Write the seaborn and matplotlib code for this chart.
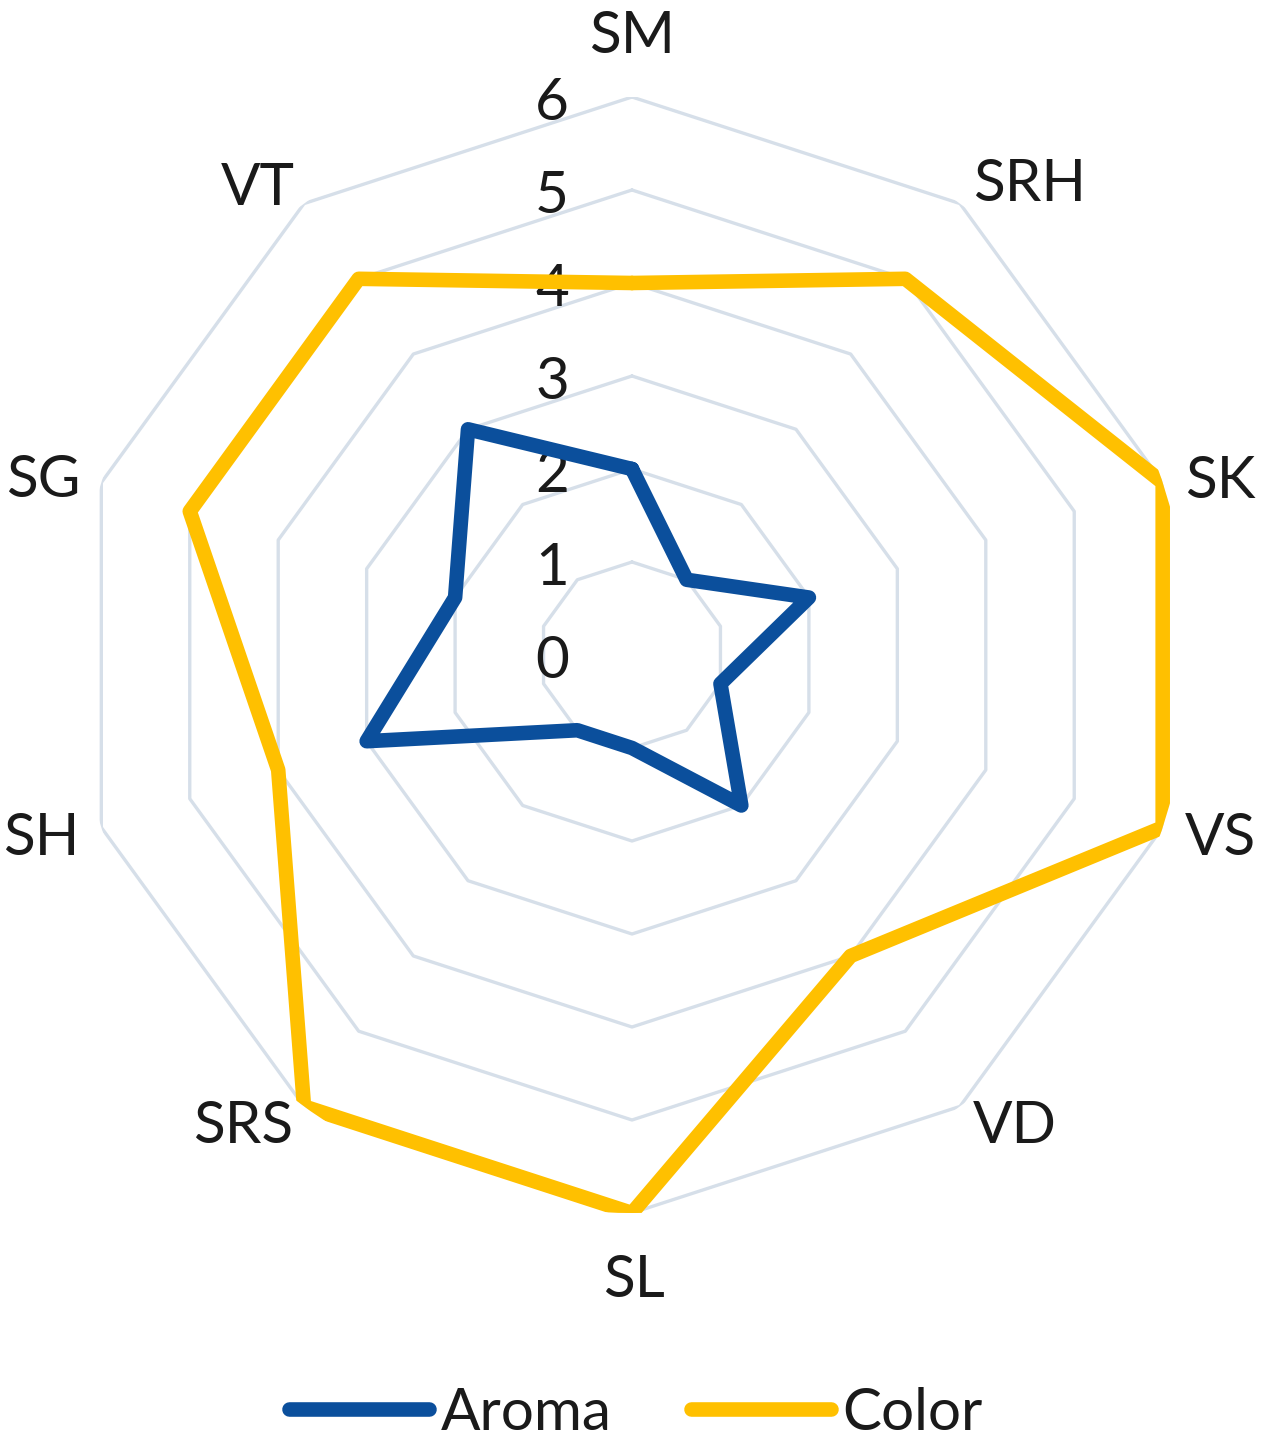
import numpy as np
import pandas as pd
import matplotlib
matplotlib.use("Agg")
import matplotlib.pyplot as plt
import matplotlib.transforms as mtrans
from matplotlib.lines import Line2D
import seaborn as sns

# --- data ---
categories = ["SM", "SRH", "SK", "VS", "VD", "SL", "SRS", "SH", "SG", "VT"]
aroma = [2, 1, 2, 1, 2, 1, 1, 3, 2, 3]
color = [4, 5, 6, 6, 4, 6, 6, 4, 5, 5]
series_names = ["Aroma", "Color"]
ring_levels = [1, 2, 3, 4, 5, 6]
tick_labels = ["0", "1", "2", "3", "4", "5", "6"]

series_colors = {"Aroma": "#0B4F9C", "Color": "#FFC000"}
grid_color = "#D6DFE9"
text_color = "#1A1A1A"

sns.set_style("white")
plt.rcParams["font.family"] = ["Lato", "DejaVu Sans"]
FS = 42

n = len(categories)
angles = np.linspace(0, 2 * np.pi, n, endpoint=False)
closed = np.append(angles, 2 * np.pi)

# long-format table, each polygon closed back to its first point
rows = []
for name, vals in zip(series_names, [aroma, color]):
    for th, v in zip(closed, vals + vals[:1]):
        rows.append({"theta": th, "value": v, "series": name})
df = pd.DataFrame(rows)

W, H = 1262, 1448
fig = plt.figure(figsize=(W / 100, H / 100), dpi=100)
cx, cy, rad = 632, 655, 558
ax = fig.add_axes([(cx - rad) / W, (H - cy - rad) / H, 2 * rad / W, 2 * rad / H],
                  projection="polar")
ax.set_theta_offset(np.pi / 2)
ax.set_theta_direction(-1)

# decagon grid rings
for lvl in ring_levels:
    ax.plot(closed, [lvl] * len(closed), color=grid_color, lw=2.4, zorder=1)

sns.lineplot(data=df, x="theta", y="value", hue="series", sort=False,
             estimator=None, palette=series_colors, linewidth=10.5,
             legend=False, ax=ax, zorder=3)
for line in ax.lines[len(ring_levels):]:
    line.set_solid_joinstyle("round")
    line.set_solid_capstyle("round")

ax.set_ylim(0, 6)
ax.set_xticks([])
ax.set_yticks([])
ax.grid(False)
ax.spines["polar"].set_visible(False)
ax.set_xlabel("")
ax.set_ylabel("")

# category labels, placed just outside the outer ring (pixel nudges: dx, dy, align)
label_pos = {
    "SM": (0, 44, "center"), "SRH": (13, 3, "left"), "SK": (22, -15, "left"),
    "VS": (22, -28, "left"), "VD": (13, -37, "left"), "SL": (2, -84, "center"),
    "SRS": (-11, -37, "right"), "SH": (-22, -28, "right"),
    "SG": (-21, -14, "right"), "VT": (-9, -1, "right"),
}
for th, lab in zip(angles, categories):
    dx, dy, ha = label_pos[lab]
    tr = mtrans.offset_copy(ax.transData, fig=fig, x=dx, y=dy, units="dots")
    ax.text(th, 6, lab, transform=tr, ha=ha, va="baseline", fontsize=FS,
            color=text_color, clip_on=False)

# radial tick labels, left of the vertical axis
off = mtrans.offset_copy(ax.transData, fig=fig, x=-80, y=-23, units="dots")
for i, lab in enumerate(tick_labels):
    ax.text(0, i, lab, transform=off, ha="center", va="baseline",
            fontsize=FS, color=text_color, zorder=2)

handles = [Line2D([0], [0], color=series_colors[s], lw=10.5,
                  solid_capstyle="round") for s in series_names]
fig.legend(handles, series_names, loc="center", ncol=2,
           bbox_to_anchor=(636 / W, 1 - 1413 / H), frameon=False,
           fontsize=FS, handlelength=2.4, handletextpad=0.2,
           columnspacing=1.35, labelcolor=text_color)

fig.savefig("out.png", dpi=100, facecolor="white")
